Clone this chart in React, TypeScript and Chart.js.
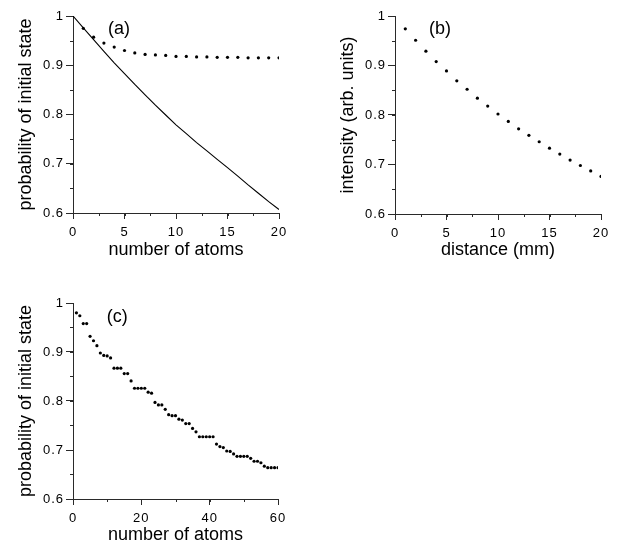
import React, { useEffect, useRef } from 'react';
import { Chart, registerables } from 'chart.js';

Chart.register(...registerables);

// ---------- data ----------
// panel (a): solid curve
const curveAtomsA = [0, 1, 2, 3, 4, 5, 6, 7, 8, 9, 10, 11, 12, 13, 14, 15, 16, 17, 18, 19, 20];
const curveProbA = [1.0, 0.976, 0.952, 0.928, 0.905, 0.883, 0.861, 0.84, 0.819, 0.799, 0.779, 0.761, 0.743, 0.726, 0.709, 0.692, 0.675, 0.657, 0.64, 0.623, 0.607];
// panel (a): dotted series
const dotAtomsA = [1, 2, 3, 4, 5, 6, 7, 8, 9, 10, 11, 12, 13, 14, 15, 16, 17, 18, 19, 20];
const dotProbA = [0.975, 0.957, 0.945, 0.937, 0.93, 0.925, 0.922, 0.921, 0.92, 0.918, 0.918, 0.917, 0.917, 0.916, 0.916, 0.916, 0.915, 0.915, 0.915, 0.915];
// panel (b)
const distanceB = [1, 2, 3, 4, 5, 6, 7, 8, 9, 10, 11, 12, 13, 14, 15, 16, 17, 18, 19, 20];
const intensityB = [0.974, 0.951, 0.929, 0.908, 0.889, 0.869, 0.852, 0.834, 0.818, 0.802, 0.787, 0.772, 0.759, 0.746, 0.733, 0.721, 0.709, 0.698, 0.687, 0.676];
// panel (c)
const atomsC = [
  1, 2, 3, 4, 5, 6, 7, 8, 9, 10, 11, 12, 13, 14, 15, 16, 17, 18, 19, 20,
  21, 22, 23, 24, 25, 26, 27, 28, 29, 30, 31, 32, 33, 34, 35, 36, 37, 38, 39, 40,
  41, 42, 43, 44, 45, 46, 47, 48, 49, 50, 51, 52, 53, 54, 55, 56, 57, 58, 59, 60,
];
const probC = [
  0.98, 0.974, 0.958, 0.958, 0.932, 0.923, 0.913, 0.898, 0.893, 0.892,
  0.888, 0.867, 0.867, 0.867, 0.856, 0.856, 0.841, 0.826, 0.826, 0.826,
  0.826, 0.818, 0.816, 0.797, 0.792, 0.792, 0.783, 0.772, 0.77, 0.77,
  0.763, 0.761, 0.754, 0.754, 0.744, 0.737, 0.727, 0.727, 0.727, 0.727,
  0.727, 0.712, 0.707, 0.705, 0.698, 0.697, 0.692, 0.687, 0.687, 0.687,
  0.687, 0.683, 0.677, 0.677, 0.674, 0.667, 0.664, 0.664, 0.664, 0.664,
];
// axis ticks / titles
const xTicksAB = [0, 5, 10, 15, 20];
const xTicksC = [0, 20, 40, 60];
const yTicks = [0.6, 0.7, 0.8, 0.9, 1];
const titleProb = 'probability of initial state';
const titleAtoms = 'number of atoms';
const titleIntensity = 'intensity (arb. units)';
const titleDistance = 'distance (mm)';

// ---------- styling ----------
const FONT = "'Liberation Sans', Arial, Helvetica, sans-serif";
const AXIS = '#2a2a2a';

const pts = (xs: number[], ys: number[]) => xs.map((x, i) => ({ x, y: ys[i] }));

const fmt = (v: number) => {
  if (Math.abs(v - 1) < 1e-9) return '1';
  return String(Math.round(v * 10) / 10);
};

const stylePlugin = {
  id: 'panelStyle',
  beforeDraw(chart: any, _a: any, opts: any) {
    chart.ctx.letterSpacing = opts.titleSpacing || '0px';
  },
  afterDatasetsDraw(chart: any, _a: any, opts: any) {
    chart.ctx.letterSpacing = opts.tickSpacing || '0px';
  },
  afterDraw(chart: any, _a: any, opts: any) {
    const { ctx, scales, chartArea } = chart;
    ctx.letterSpacing = '0px';
    ctx.save();
    ctx.strokeStyle = AXIS;
    ctx.lineWidth = 1;
    // minor ticks
    const xs = scales.x;
    const ys = scales.y;
    ctx.beginPath();
    for (let v = xs.min; v <= xs.max + 1e-9; v += opts.xMinor) {
      const px = Math.round(xs.getPixelForValue(v)) + 0.5;
      ctx.moveTo(px, chartArea.bottom);
      ctx.lineTo(px, chartArea.bottom + 3);
    }
    for (let v = ys.min; v <= ys.max + 1e-9; v += opts.yMinor) {
      const py = Math.round(ys.getPixelForValue(v)) + 0.5;
      ctx.moveTo(chartArea.left - 3, py);
      ctx.lineTo(chartArea.left, py);
    }
    ctx.stroke();
    // panel label
    ctx.fillStyle = '#000';
    ctx.font = `18px ${FONT}`;
    ctx.textAlign = 'left';
    ctx.textBaseline = 'middle';
    ctx.fillText(opts.label, xs.getPixelForValue(opts.labelX), ys.getPixelForValue(opts.labelY));
    ctx.restore();
  },
};

type PanelProps = {
  left: number;
  top: number;
  width: number;
  height: number;
  datasets: any[];
  xMax: number;
  xStep: number;
  xMinor: number;
  xTickValues: number[];
  xTitle: string;
  yTitle: string;
  yAxisWidth: number;
  xAxisHeight: number;
  xTitlePad: number;
  padTop: number;
  padRight: number;
  label: string;
  labelX: number;
  labelY: number;
};

function Panel(p: PanelProps) {
  const ref = useRef<HTMLCanvasElement>(null);
  useEffect(() => {
    if (!ref.current) return;
    const chart = new Chart(ref.current, {
      type: 'scatter',
      data: { datasets: p.datasets },
      plugins: [stylePlugin],
      options: {
        animation: false,
        responsive: false,
        devicePixelRatio: 1,
        layout: { padding: { top: p.padTop, right: p.padRight, left: 0, bottom: 0 } },
        plugins: {
          legend: { display: false },
          tooltip: { enabled: false },
          panelStyle: {
            titleSpacing: '0px',
            tickSpacing: '1px',
            xMinor: p.xMinor,
            yMinor: 0.05,
            label: p.label,
            labelX: p.labelX,
            labelY: p.labelY,
          },
        } as any,
        scales: {
          x: {
            type: 'linear',
            min: 0,
            max: p.xMax,
            afterFit: (s: any) => {
              s.height = p.xAxisHeight;
            },
            afterBuildTicks: (s: any) => {
              s.ticks = p.xTickValues.map((v) => ({ value: v }));
            },
            ticks: {
              stepSize: p.xStep,
              autoSkip: false,
              maxRotation: 0,
              padding: 6,
              color: '#000',
              z: 1,
              font: { family: FONT, size: 13 },
              callback: (v: any) => String(v),
            },
            grid: { display: true, drawOnChartArea: false, drawTicks: true, tickLength: 6, color: AXIS },
            border: { display: true, color: AXIS, width: 1 },
            title: {
              display: true,
              text: p.xTitle,
              color: '#000',
              font: { family: FONT, size: 18 },
              padding: { top: 0, bottom: p.xTitlePad },
            },
          },
          y: {
            type: 'linear',
            min: 0.6,
            max: 1,
            afterFit: (s: any) => {
              s.width = p.yAxisWidth;
            },
            afterBuildTicks: (s: any) => {
              s.ticks = yTicks.map((v) => ({ value: v }));
            },
            ticks: {
              stepSize: 0.1,
              autoSkip: false,
              padding: 2,
              color: '#000',
              z: 1,
              font: { family: FONT, size: 13 },
              callback: (v: any) => fmt(Number(v)),
            },
            grid: { display: true, drawOnChartArea: false, drawTicks: true, tickLength: 7, color: AXIS },
            border: { display: true, color: AXIS, width: 1 },
            title: {
              display: true,
              text: p.yTitle,
              color: '#000',
              font: { family: FONT, size: 18 },
              padding: { top: p.yAxisWidth - 47 - 10.8, bottom: 0 },
            },
          },
        },
      } as any,
    });
    return () => chart.destroy();
  }, []);
  return (
    <canvas
      ref={ref}
      width={p.width}
      height={p.height}
      style={{ position: 'absolute', left: p.left, top: p.top, width: p.width, height: p.height }}
    />
  );
}

const dotStyle = {
  showLine: false,
  pointRadius: 1.6,
  pointBorderWidth: 0,
  pointBackgroundColor: '#000',
  pointBorderColor: '#000',
};

export default function App() {
  return (
    <div style={{ position: 'fixed', left: 0, top: 0, width: 623, height: 546, background: '#fff' }}>
      <Panel
        left={0}
        top={0}
        width={310}
        height={290}
        datasets={[
          {
            data: pts(curveAtomsA, curveProbA),
            showLine: true,
            borderColor: '#000',
            borderWidth: 1.1,
            pointRadius: 0,
            tension: 0,
          },
          { data: pts(dotAtomsA, dotProbA), ...dotStyle },
        ]}
        xMax={20}
        xStep={5}
        xMinor={2.5}
        xTickValues={xTicksAB}
        xTitle={titleAtoms}
        yTitle={titleProb}
        yAxisWidth={73}
        xAxisHeight={77}
        xTitlePad={29}
        padTop={16}
        padRight={31}
        label="(a)"
        labelX={3.4}
        labelY={0.974}
      />
      <Panel
        left={310}
        top={0}
        width={313}
        height={290}
        datasets={[{ data: pts(distanceB, intensityB), ...dotStyle }]}
        xMax={20}
        xStep={5}
        xMinor={2.5}
        xTickValues={xTicksAB}
        xTitle={titleDistance}
        yTitle={titleIntensity}
        yAxisWidth={85}
        xAxisHeight={76}
        xTitlePad={29}
        padTop={16}
        padRight={22}
        label="(b)"
        labelX={3.3}
        labelY={0.974}
      />
      <Panel
        left={0}
        top={290}
        width={310}
        height={256}
        datasets={[{ data: pts(atomsC, probC), ...dotStyle }]}
        xMax={60}
        xStep={20}
        xMinor={10}
        xTickValues={xTicksC}
        xTitle={titleAtoms}
        yTitle={titleProb}
        yAxisWidth={73}
        xAxisHeight={47}
        xTitlePad={0}
        padTop={13}
        padRight={32}
        label="(c)"
        labelX={9.9}
        labelY={0.972}
      />
    </div>
  );
}
